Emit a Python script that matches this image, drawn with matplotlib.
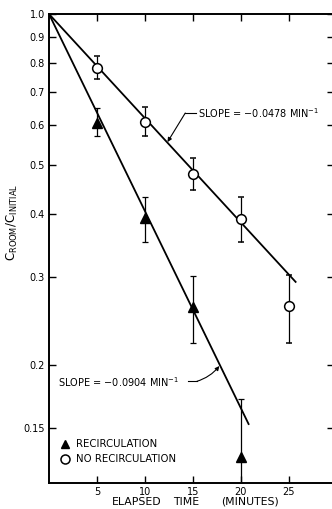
import numpy as np
import matplotlib
matplotlib.use("Agg")
import matplotlib.pyplot as plt
from matplotlib.lines import Line2D

plt.rcParams['font.family'] = ['DejaVu Sans']
plt.rcParams['mathtext.default'] = 'regular'

# Measurements: elapsed time (min), mean concentration ratio, error-bar limits
time_min = [5, 10, 15, 20, 25]

recirc_t = [5, 10, 15, 20]
recirc_y = [0.608, 0.392, 0.261, 0.131]
recirc_lo = [0.571, 0.351, 0.221, 0.116]
recirc_hi = [0.650, 0.432, 0.301, 0.171]

norecirc_t = [5, 10, 15, 20, 25]
norecirc_y = [0.780, 0.609, 0.480, 0.390, 0.262]
norecirc_lo = [0.742, 0.571, 0.446, 0.351, 0.221]
norecirc_hi = [0.825, 0.653, 0.517, 0.432, 0.302]

# Fitted first-order decay rates (1/min) and extent of each fit line
slope_recirc = -0.0904
slope_norecirc = -0.0478
fit_end_recirc = 20.8
fit_end_norecirc = 25.7

y_ticks = [1.0, 0.9, 0.8, 0.7, 0.6, 0.5, 0.4, 0.3, 0.2, 0.15]
y_ticklabels = ['1.0', '0.9', '0.8', '0.7', '0.6', '0.5', '0.4', '0.3', '0.2', '0.15']

fig = plt.figure(figsize=(3.32, 5.09), dpi=100)
ax = fig.add_axes([49/332, 26/509, 285/332, 469/509])
ax.set_yscale('log')
ax.set_xlim(0, 29.7)
ax.set_ylim(0.1164, 1.0)

# Fit lines through C/C0 = 1 at t = 0
for k, tend in ((slope_recirc, fit_end_recirc), (slope_norecirc, fit_end_norecirc)):
    tt = np.linspace(0, tend, 50)
    ax.plot(tt, np.exp(k * tt), color='black', lw=1.3, zorder=3)

def yerr(y, lo, hi):
    y = np.array(y); return np.vstack([y - np.array(lo), np.array(hi) - y])

ax.errorbar(recirc_t, recirc_y, yerr=yerr(recirc_y, recirc_lo, recirc_hi),
            fmt='^', ms=6.5, mfc='black', mec='black', ecolor='black',
            elinewidth=0.9, capsize=2.2, capthick=0.9, zorder=4)
ax.errorbar(norecirc_t, norecirc_y, yerr=yerr(norecirc_y, norecirc_lo, norecirc_hi),
            fmt='o', ms=7, mfc='white', mec='black', mew=1.1, ecolor='black',
            elinewidth=0.9, capsize=2.2, capthick=0.9, zorder=4)

# Slope annotations with kinked leaders
fs = 7
ax.text(15.5, 0.635, r'SLOPE = $-$0.0478 MIN$^{-1}$', fontsize=fs, ha='left', va='center')
ax.plot([14.2, 15.3], [0.635, 0.635], color='black', lw=0.8)
ax.annotate('', xy=(12.35, 0.556), xytext=(14.2, 0.635),
            arrowprops=dict(arrowstyle='-|>', color='black', lw=0.8,
                            mutation_scale=6, shrinkA=0, shrinkB=0))

ax.text(0.95, 0.185, r'SLOPE = $-$0.0904 MIN$^{-1}$', fontsize=fs, ha='left', va='center')
ax.plot([14.5, 15.4], [0.1855, 0.1855], color='black', lw=0.8)
ax.annotate('', xy=(17.75, 0.199), xytext=(15.4, 0.1855),
            arrowprops=dict(arrowstyle='-|>', color='black', lw=0.8,
                            mutation_scale=6, shrinkA=0, shrinkB=0,
                            connectionstyle='arc3,rad=0.15'))

# Axes styling
for s in ax.spines.values():
    s.set_linewidth(1.4)
ax.set_yticks(y_ticks)
ax.set_yticklabels(y_ticklabels)
ax.yaxis.set_minor_locator(matplotlib.ticker.NullLocator())
ax.set_xticks(time_min)
ax.set_xticklabels([str(t) for t in time_min])
ax.tick_params(axis='both', which='major', direction='in', length=5, width=1.0,
               labelsize=7, pad=3, top=True, right=True)

handles = [
    Line2D([], [], ls='none', marker='^', ms=6, mfc='black', mec='black'),
    Line2D([], [], ls='none', marker='o', ms=6.5, mfc='white', mec='black', mew=1.1),
]
ax.legend(handles, ['RECIRCULATION', 'NO RECIRCULATION'],
          loc='lower left', bbox_to_anchor=(0.012, 0.025), frameon=False,
          fontsize=7.3, handlelength=1.0, handletextpad=0.6, labelspacing=0.5,
          borderaxespad=0.3)

# x-axis title, spread out in three words
for word, xc in (('ELAPSED', 137), ('TIME', 186), ('(MINUTES)', 250)):
    fig.text(xc/332, 1 - 502/509, word, fontsize=7.8, ha='center', va='center')
fig.text(12/332, 1 - 222/509, r'C$_{ROOM}$/C$_{INITIAL}$', fontsize=8.5,
         rotation=90, ha='center', va='center')

fig.savefig('out.png', dpi=100)
